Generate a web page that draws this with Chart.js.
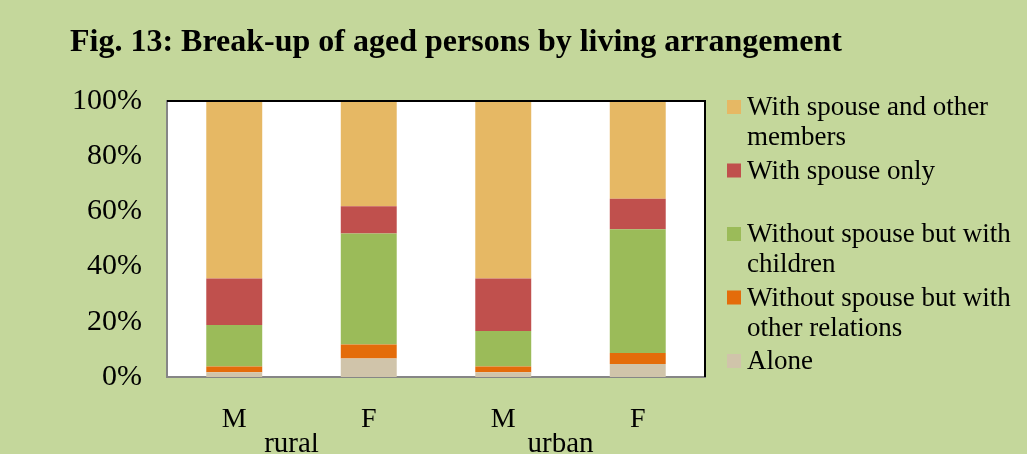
<!DOCTYPE html>
<html>
<head>
<meta charset="utf-8">
<script src="https://cdn.jsdelivr.net/npm/chart.js@4/dist/chart.umd.min.js"></script>
<style>
  html, body { margin: 0; padding: 0; background: #C4D79B; overflow: hidden; }
  canvas { display: block; }
</style>
</head>
<body>
<canvas id="barChart" width="1027" height="454"></canvas>
<script>
const categories = ["M", "F", "M", "F"];
const groups = ["rural", "urban"];
const titleText = "Fig. 13: Break-up of aged persons by living arrangement";

// stacked bottom to top, values in percent
const alone = [1.7, 6.7, 1.7, 4.7];
const otherRelations = [2.1, 5.1, 2.1, 4.0];
const withChildren = [15.0, 40.2, 12.9, 44.8];
const spouseOnly = [16.9, 9.9, 19.0, 11.1];
const spouseAndOthers = [64.3, 38.1, 64.3, 35.4];

const yTicks = [0, 20, 40, 60, 80, 100];

const seriesNames = [
    "Alone",
    "Without spouse but with other relations",
    "Without spouse but with children",
    "With spouse only",
    "With spouse and other members"
];
const seriesData = [alone, otherRelations, withChildren, spouseOnly, spouseAndOthers];
const seriesColors = ["#D0C4AA", "#E46C0A", "#9BBB59", "#C0504D", "#E6B864"];

const SERIF = "'Liberation Serif', 'Times New Roman', serif";

// background, plot area, title and a wrapped legend like the Excel one
const decorPlugin = {
    id: 'decor',
    beforeDraw(chart) {
        const { ctx, chartArea: a } = chart;
        ctx.save();
        ctx.fillStyle = '#C4D79B';
        ctx.fillRect(0, 0, chart.width, chart.height);
        ctx.fillStyle = '#FFFFFF';
        ctx.fillRect(a.left, a.top, a.right - a.left, a.bottom - a.top);
        ctx.restore();
    },
    afterDraw(chart) {
        const { ctx, chartArea: a } = chart;
        ctx.save();
        // top and right frame
        ctx.strokeStyle = '#000000';
        ctx.lineWidth = 2;
        ctx.beginPath();
        ctx.moveTo(a.left, a.top);
        ctx.lineTo(a.right, a.top);
        ctx.lineTo(a.right, a.bottom);
        ctx.stroke();

        // title
        ctx.fillStyle = '#000000';
        ctx.font = "bold 32px " + SERIF;
        ctx.textAlign = 'left';
        ctx.textBaseline = 'alphabetic';
        ctx.fillText(titleText, 70, 51);

        // legend, reversed so the top of the stack comes first
        ctx.font = "27px " + SERIF;
        ctx.textBaseline = 'middle';
        const ds = chart.data.datasets.slice().reverse();
        ds.forEach((d, i) => {
            const y0 = 108 + i * 63.5;
            ctx.fillStyle = d.backgroundColor;
            ctx.fillRect(727, y0 - 8, 14, 14);
            ctx.fillStyle = '#000000';
            const words = d.label.split(' ');
            const lines = [];
            let line = '';
            words.forEach(w => {
                const test = line ? line + ' ' + w : w;
                if (ctx.measureText(test).width > 272 && line) {
                    lines.push(line);
                    line = w;
                } else {
                    line = test;
                }
            });
            lines.push(line);
            lines.forEach((l, j) => ctx.fillText(l, 747, y0 + j * 30));
        });
        ctx.restore();
    }
};

new Chart(document.getElementById("barChart"), {
    type: 'bar',
    data: {
        labels: categories,
        datasets: seriesNames.map((name, i) => ({
            label: name,
            data: seriesData[i],
            backgroundColor: seriesColors[i],
            borderWidth: 0,
            barPercentage: 0.416,
            categoryPercentage: 1
        }))
    },
    options: {
        responsive: false,
        animation: false,
        layout: { padding: { top: 101, right: 322, left: 0, bottom: 0 } },
        plugins: {
            legend: { display: false },
            title: { display: false },
            tooltip: { enabled: false }
        },
        scales: {
            x: {
                stacked: true,
                weight: 0,
                grid: { display: false, drawTicks: false },
                border: { color: '#868686', width: 2 },
                ticks: { color: '#000000', padding: 29, font: { family: SERIF, size: 28, lineHeight: 1 } },
                afterFit: s => { s.height = 56; }
            },
            x2: {
                type: 'category',
                labels: groups,
                offset: true,
                position: 'bottom',
                weight: 1,
                grid: { display: false, drawTicks: false },
                border: { display: false },
                ticks: { color: '#000000', padding: -3, labelOffset: -10, font: { family: SERIF, size: 29, lineHeight: 1 } },
                afterFit: s => { s.height = 21; }
            },
            y: {
                stacked: true,
                min: 0,
                max: 100,
                afterBuildTicks: s => { s.ticks = yTicks.map(v => ({ value: v })); },
                grid: { display: false, drawTicks: false },
                border: { color: '#868686', width: 2 },
                ticks: {
                    color: '#000000',
                    padding: 25,
                    font: { family: SERIF, size: 30 },
                    callback: v => v + '%'
                },
                afterFit: s => { s.width = 167; }
            }
        }
    },
    plugins: [decorPlugin]
});
</script>
</body>
</html>
